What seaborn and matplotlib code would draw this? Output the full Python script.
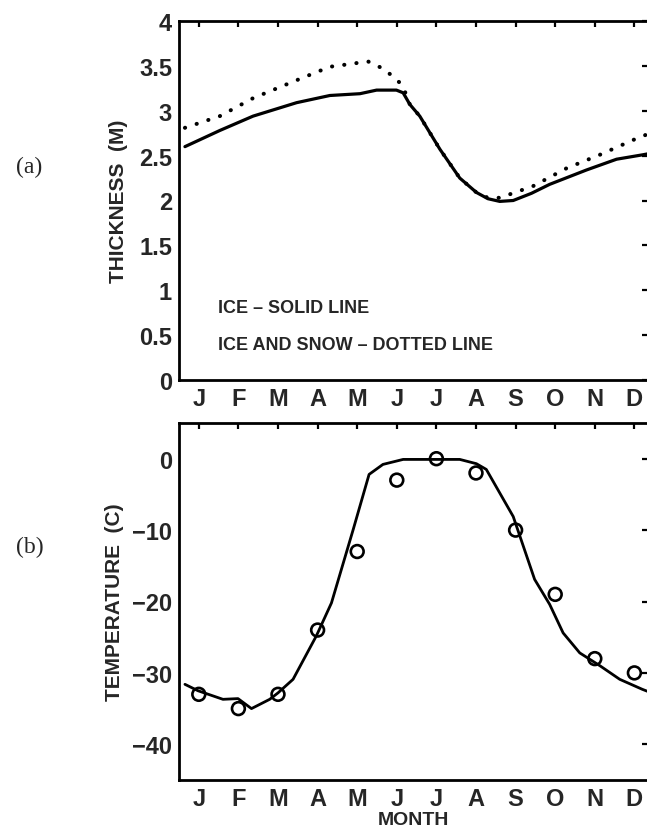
import numpy as np
import pandas as pd
import matplotlib
matplotlib.use("Agg")
import matplotlib.pyplot as plt
import seaborn as sns
from matplotlib import font_manager

# Month axis
month_pos = list(range(1, 13))
month_labels = ["J", "F", "M", "A", "M", "J", "J", "A", "S", "O", "N", "D"]

# (a) Ice thickness (m), model curve through the year
ice_month = [0.65, 1.53, 2.37, 3.47, 4.31, 5.07, 5.49, 5.99, 6.16, 6.33, 6.58, 7.09,
             7.59, 8.01, 8.30, 8.60, 8.94, 9.40, 9.86, 10.79, 11.55, 12.22, 12.34]
ice_thick = [2.60, 2.78, 2.94, 3.09, 3.17, 3.19, 3.23, 3.23, 3.20, 3.07, 2.94, 2.57,
             2.25, 2.09, 2.02, 1.99, 2.00, 2.08, 2.18, 2.34, 2.46, 2.51, 2.52]

# (a) Ice plus snow thickness (m)
snow_month = [0.65, 1.53, 2.37, 3.47, 4.31, 4.81, 5.27, 5.65, 5.91, 6.08, 6.20, 6.33,
              6.58, 7.09, 7.59, 8.01, 8.30, 8.60, 9.44, 10.29, 11.13, 12.05, 12.34]
snow_thick = [2.81, 2.94, 3.14, 3.34, 3.49, 3.52, 3.55, 3.47, 3.38, 3.31, 3.22, 3.07,
              2.94, 2.57, 2.25, 2.09, 2.03, 2.03, 2.16, 2.36, 2.51, 2.69, 2.74]

# (b) Surface temperature (C), model curve
temp_month = [0.65, 0.98, 1.61, 1.99, 2.33, 2.79, 3.00, 3.38, 3.97, 4.35, 4.90, 5.30,
              5.65, 6.16, 7.00, 7.59, 8.01, 8.26, 8.94, 9.48, 9.86, 10.20, 10.62,
              11.13, 11.63, 12.20, 12.34]
temp_model = [-31.6, -32.5, -33.7, -33.6, -35.0, -33.7, -32.8, -30.9, -24.8, -20.2,
              -9.9, -2.2, -0.8, -0.1, -0.1, -0.1, -0.7, -1.5, -8.1, -16.9, -20.4,
              -24.4, -27.2, -29.0, -30.9, -32.3, -32.6]

# (b) Observed monthly mean temperature (C)
temp_obs = [-33, -35, -33, -24, -13, -3, 0, -2, -10, -19, -28, -30]

ice_df = pd.DataFrame({"month": ice_month, "thickness": ice_thick})
snow_df = pd.DataFrame({"month": snow_month, "thickness": snow_thick})
model_df = pd.DataFrame({"month": temp_month, "temperature": temp_model})
obs_df = pd.DataFrame({"month": month_pos, "temperature": temp_obs})

sns.set_theme(style="white")
available = {f.name for f in font_manager.fontManager.ttflist}
sans = "Liberation Sans" if "Liberation Sans" in available else "DejaVu Sans"
narrow = "Liberation Sans Narrow" if "Liberation Sans Narrow" in available else sans
serif = "Liberation Serif" if "Liberation Serif" in available else "DejaVu Serif"
plt.rcParams["font.family"] = [sans, "DejaVu Sans"]

W, H = 647, 837
fig = plt.figure(figsize=(W / 100, H / 100), dpi=100)
fig.patch.set_facecolor("white")

x_left_px, x_right_px = 179, 648
px_per_month = 39.6
xlim = (0.5, 0.5 + (x_right_px - x_left_px) / px_per_month)


def frac_rect(top_px, bottom_px):
    return [x_left_px / W, 1 - bottom_px / H,
            (x_right_px - x_left_px) / W, (bottom_px - top_px) / H]


ax1 = fig.add_axes(frac_rect(22, 381))
ax2 = fig.add_axes(frac_rect(424, 781))

tick_font = dict(fontsize=17, fontweight="bold")

for ax in (ax1, ax2):
    ax.set_facecolor("white")
    ax.set_xlim(*xlim)
    ax.set_xticks(month_pos)
    ax.set_xticklabels(month_labels, **tick_font)
    ax.tick_params(axis="both", which="major", direction="in", length=4, width=1.6,
                   top=True, right=True, color="black", pad=5)
    for s in ax.spines.values():
        s.set_visible(True)
        s.set_color("black")
        s.set_linewidth(2.0)
    ax.grid(False)

# (a) thickness panel
sns.lineplot(data=ice_df, x="month", y="thickness", ax=ax1, color="black",
             linewidth=2.3, sort=False, estimator=None)
sns.lineplot(data=snow_df, x="month", y="thickness", ax=ax1, color="black",
             linewidth=2.9, sort=False, estimator=None,
             linestyle=(0, (0.05, 3.0)), dash_capstyle="round")
ax1.set_ylim(0, 4)
ax1.set_yticks([0, 0.5, 1, 1.5, 2, 2.5, 3, 3.5, 4])
ax1.set_yticklabels(["0", "0.5", "1", "1.5", "2", "2.5", "3", "3.5", "4"], **tick_font)
ax1.set_xlabel("")
ax1.set_ylabel("THICKNESS  (M)", fontsize=15, fontweight="bold", labelpad=8)

ax1.text(1.48, 0.81, "ICE – SOLID LINE", fontsize=13, fontweight="bold",
         family=[narrow, "DejaVu Sans"], va="center", ha="left")
ax1.text(1.48, 0.40, "ICE AND SNOW – DOTTED LINE", fontsize=13, fontweight="bold",
         family=[narrow, "DejaVu Sans"], va="center", ha="left")

# (b) temperature panel
sns.lineplot(data=model_df, x="month", y="temperature", ax=ax2, color="black",
             linewidth=2.0, sort=False, estimator=None)
sns.scatterplot(data=obs_df, x="month", y="temperature", ax=ax2, marker="o",
                s=85, facecolors="none", edgecolor="black", linewidth=1.9, zorder=3)
ax2.set_ylim(-45, 5)
ax2.set_yticks([-40, -30, -20, -10, 0])
ax2.set_yticklabels(["−40", "−30", "−20", "−10", "0"], **tick_font)
ax2.set_xlabel("MONTH", fontsize=14, fontweight="bold", labelpad=1)
ax2.set_ylabel("TEMPERATURE  (C)", fontsize=15, fontweight="bold", labelpad=6)

fig.text(16 / W, 1 - 167 / H, "(a)", fontsize=17, family=[serif, "DejaVu Serif"],
         va="center", ha="left")
fig.text(16 / W, 1 - 547 / H, "(b)", fontsize=17, family=[serif, "DejaVu Serif"],
         va="center", ha="left")

fig.savefig("out.png", dpi=100, facecolor="white")
